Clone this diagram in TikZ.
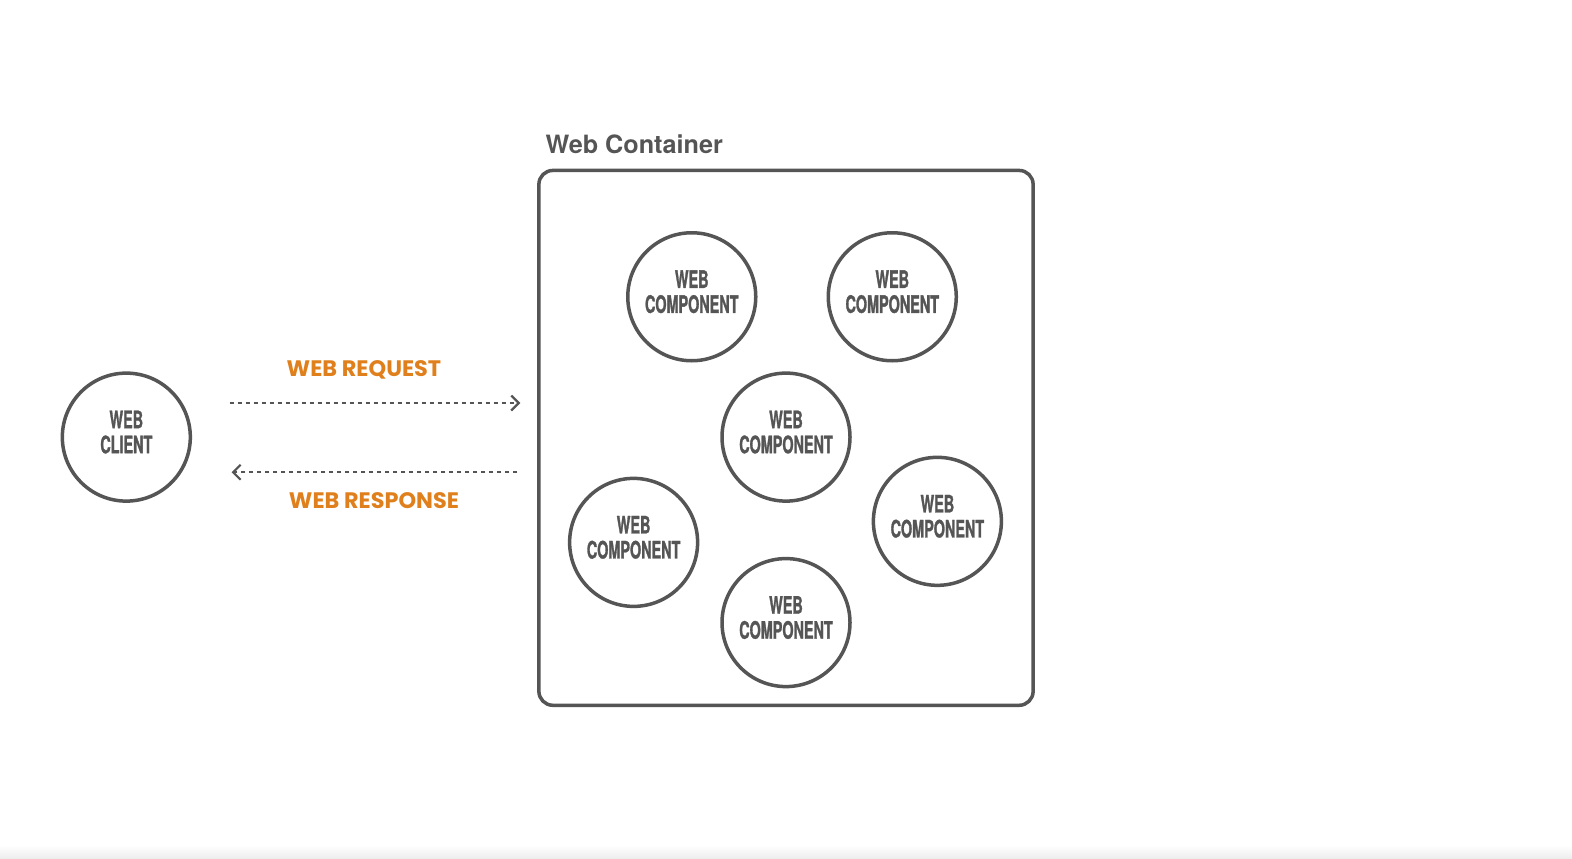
\documentclass[tikz,border=0pt]{standalone}
\usepackage{fontspec}
\usetikzlibrary{arrows.meta}
\setmainfont{TeX Gyre Heros}
\newfontfamily\condfont{TeX Gyre Heros}[FakeStretch=0.6,BoldFeatures={FakeBold=1.2}]
\newfontfamily\roundfont{Poppins}
\definecolor{stroke}{HTML}{555555}
\definecolor{orng}{HTML}{E0801C}
\tikzset{
  comptext/.style={text=stroke, align=center, inner sep=0pt, yshift=5pt,
    font=\condfont\bfseries\fontsize{24}{25}\selectfont},
  comp/.style={circle, draw=stroke, line width=3.5pt, minimum size=128pt, inner sep=0pt,
    label={[comptext]center:#1}},
  flow/.style={draw=stroke, line width=2pt, dash pattern=on 4pt off 4pt,
    -{Straight Barb[length=7.5pt,width=15pt,line width=2.2pt]}},
  flowlabel/.style={text=orng, font=\roundfont\bfseries\fontsize{22.4}{24}\selectfont, inner sep=0pt},
  box/.style={draw=stroke, line width=3.5pt, rounded corners=14pt}
}
\begin{document}
\begin{tikzpicture}[x=1.0026pt,y=-1.0026pt]
\useasboundingbox (0,0) rectangle (1568,856);
\fill[white] (0,0) rectangle (1568,856);
\shade[top color=white, bottom color=black!7] (0,843) rectangle (1568,856);
% container
\draw[box] (537.5,170) rectangle (1030.5,703.5);
\node[anchor=west, text=stroke, font=\bfseries\fontsize{25.2}{27}\selectfont, inner sep=0pt] (title) at (544,144) {Web Container};
% client
\node[comp={WEB\\CLIENT}] (client) at (126,436) {};
% components
\node[comp={WEB\\COMPONENT}] (c1) at (690,296) {};
\node[comp={WEB\\COMPONENT}] (c2) at (890,296) {};
\node[comp={WEB\\COMPONENT}] (c3) at (784,436) {};
\node[comp={WEB\\COMPONENT}] (c4) at (632,541) {};
\node[comp={WEB\\COMPONENT}] (c5) at (935,520) {};
\node[comp={WEB\\COMPONENT}] (c6) at (784,621) {};
% arrows
\coordinate (rqs) at (229,402);
\coordinate (rqe) at (519,402);
\coordinate (rss) at (516,471);
\coordinate (rse) at (231,471);
\draw[flow] (rqs) -- (rqe);
\draw[flow] (rss) -- (rse);
\node[flowlabel] (req) at (363,369) {WEB REQUEST};
\node[flowlabel] (resp) at (373,499) {WEB RESPONSE};
\end{tikzpicture}
\end{document}
